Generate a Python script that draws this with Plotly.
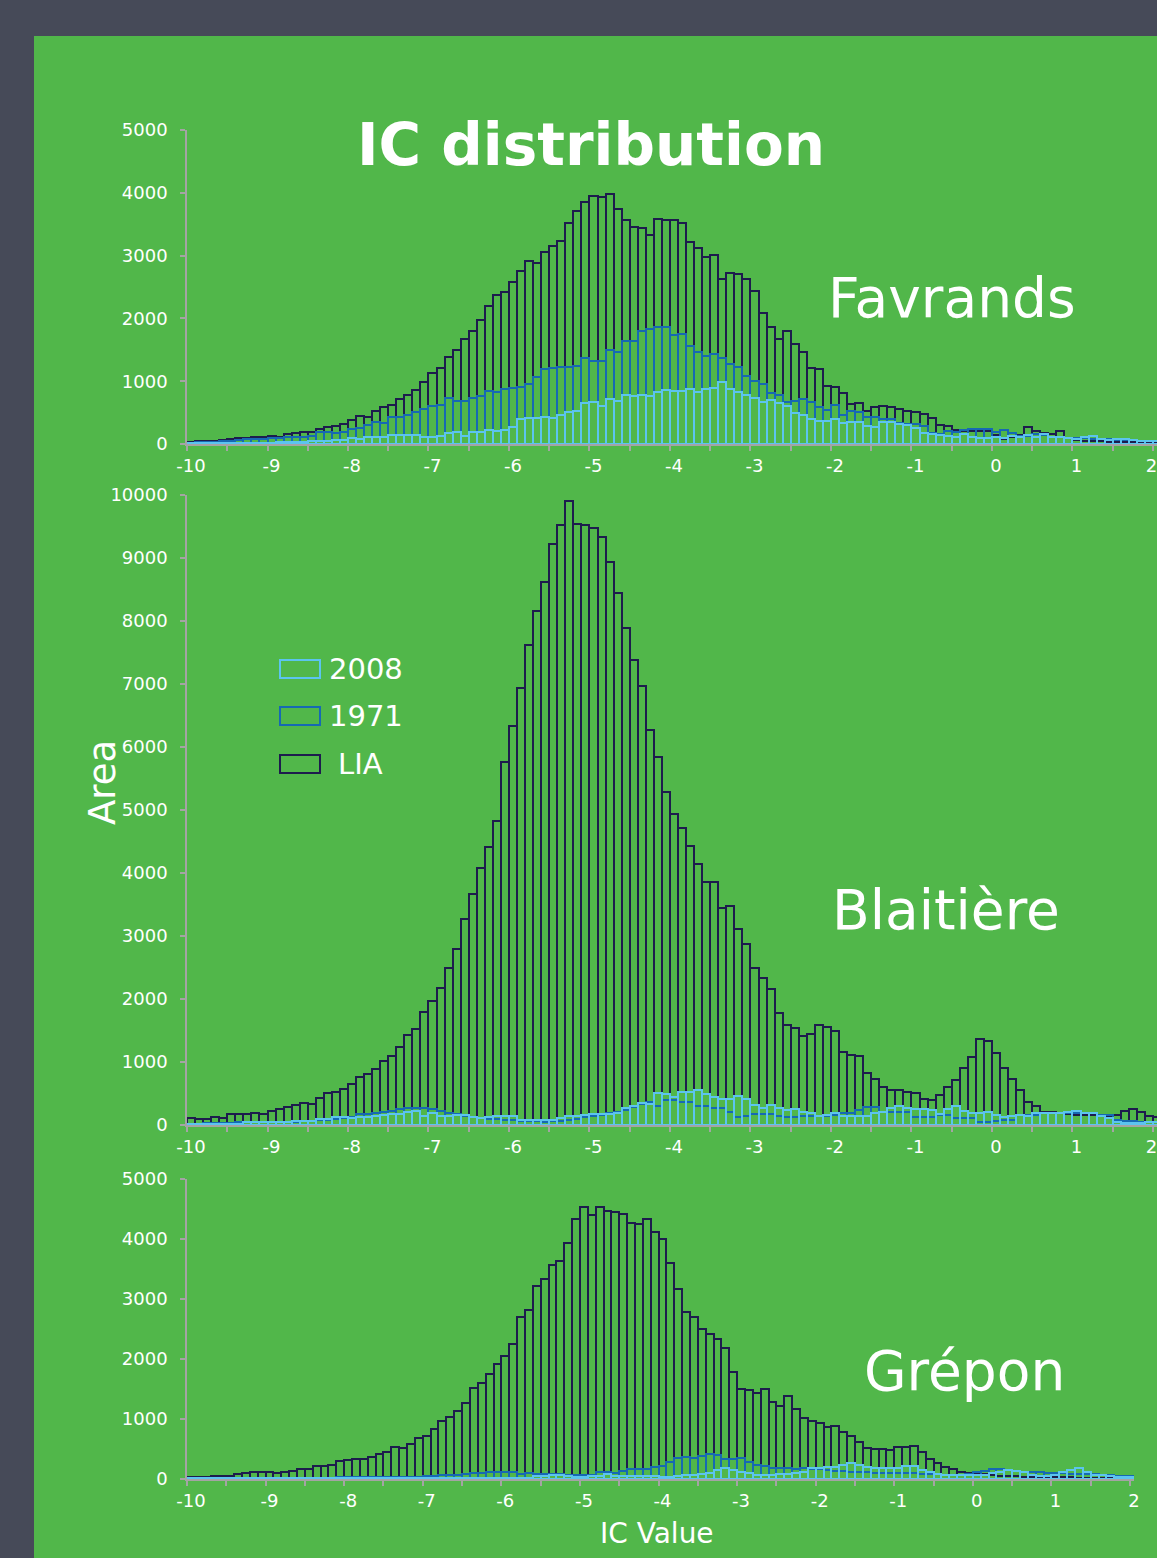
import plotly.graph_objects as go

W, H = 1157, 1558
FONT = "DejaVu Sans"
GREEN = "#51b74a"
DARK = "#464a58"
GRAY = "#a4a4a4"
C_LIA = "#1d1c4d"
C_1971 = "#1669b3"
C_2008 = "#5cc4ef"

# IC value bins (0.1 wide, from -10 to 2)
ic_bins = [round(-10 + 0.1 * i, 1) for i in range(121)]

x_tick_vals = [-10, -9, -8, -7, -6, -5, -4, -3, -2, -1, 0, 1, 2]
x_tick_text = ["-10", "-9", "-8", "-7", "-6", "-5", "-4", "-3", "-2", "-1", "0", "1", "2"]

favrands_lia = [37, 43, 53, 53, 64, 74, 96, 96, 106, 117,
                133, 117, 154, 181, 197, 197, 234, 276, 287, 319,
                383, 447, 436, 532, 585, 627, 723, 782, 861, 989,
                1127, 1207, 1393, 1489, 1675, 1792, 1978, 2190, 2377, 2424,
                2579, 2759, 2908, 2882, 3052, 3158, 3227, 3520, 3706, 3850,
                3956, 3935, 3982, 3743, 3562, 3456, 3440, 3322, 3589, 3573,
                3562, 3520, 3216, 3115, 2977, 3009, 2632, 2722, 2706, 2632,
                2430, 2085, 1871, 1675, 1792, 1595, 1472, 1217, 1196, 925,
                915, 808, 638, 659, 531, 585, 611, 585, 558, 526,
                505, 473, 409, 303, 292, 223, 212, 207, 201, 200,
                144, 80, 117, 144, 276, 207, 170, 160, 212, 101,
                60, 50, 45, 40, 35, 30, 30, 25, 20, 20, 20]
favrands_1971 = [20, 25, 30, 35, 40, 50, 60, 74, 74, 80,
                 90, 95, 106, 110, 117, 120, 186, 186, 170, 197,
                 234, 250, 303, 356, 340, 436, 436, 463, 516, 553,
                 611, 622, 728, 691, 691, 728, 766, 851, 835, 877,
                 888, 904, 957, 1074, 1191, 1207, 1234, 1223, 1250, 1377,
                 1314, 1329, 1489, 1473, 1648, 1648, 1792, 1829, 1871, 1871,
                 1739, 1749, 1563, 1462, 1409, 1436, 1366, 1270, 1234, 1090,
                 1010, 957, 808, 781, 675, 691, 717, 664, 595, 542,
                 622, 463, 531, 505, 436, 430, 399, 393, 340, 319,
                 319, 292, 170, 160, 213, 197, 223, 234, 234, 234,
                 186, 223, 181, 128, 128, 160, 143, 117, 106, 100,
                 96, 90, 85, 80, 75, 70, 65, 60, 50, 45, 40]
favrands_2008 = [10, 10, 12, 12, 15, 15, 18, 18, 20, 20,
                 22, 25, 35, 35, 35, 40, 48, 48, 58, 58,
                 90, 74, 106, 106, 106, 143, 143, 143, 143, 117,
                 106, 127, 170, 186, 133, 197, 197, 223, 213, 223,
                 276, 399, 420, 420, 436, 420, 463, 516, 531, 648,
                 675, 606, 717, 691, 781, 766, 781, 766, 835, 861,
                 845, 851, 877, 835, 877, 888, 994, 872, 835, 781,
                 728, 664, 702, 648, 611, 500, 463, 393, 372, 372,
                 404, 340, 346, 346, 287, 276, 356, 356, 319, 303,
                 250, 170, 154, 143, 128, 106, 160, 117, 90, 90,
                 106, 90, 128, 106, 143, 117, 160, 117, 106, 90,
                 74, 106, 128, 74, 64, 80, 74, 64, 55, 50, 50]

blaitiere_lia = [116, 90, 100, 132, 116, 169, 169, 175, 185, 180,
                 222, 249, 291, 317, 344, 333, 423, 503, 519, 571,
                 646, 762, 804, 884, 1013, 1103, 1235, 1424, 1530, 1800,
                 1968, 2175, 2486, 2797, 3263, 3665, 4079, 4417, 4825, 5759,
                 6335, 6930, 7617, 8155, 8616, 9218, 9522, 9898, 9535, 9522,
                 9480, 9335, 8933, 8446, 7889, 7384, 6963, 6270, 5837, 5280,
                 4941, 4714, 4430, 4138, 3860, 3850, 3451, 3484, 3114, 2875,
                 2498, 2337, 2162, 1778, 1583, 1545, 1418, 1452, 1583, 1561,
                 1497, 1153, 1111, 1095, 831, 730, 598, 556, 556, 524,
                 513, 413, 397, 476, 598, 714, 899, 1074, 1360, 1333,
                 1148, 899, 730, 556, 365, 302, 212, 212, 190, 175,
                 165, 160, 165, 160, 150, 160, 230, 250, 200, 140, 130]
blaitiere_1971 = [20, 20, 25, 25, 30, 30, 40, 40, 45, 45,
                  50, 50, 55, 55, 60, 65, 80, 85, 90, 110,
                  120, 175, 175, 185, 200, 215, 249, 265, 265, 265,
                  249, 222, 196, 175, 150, 130, 110, 100, 90, 80,
                  75, 70, 65, 60, 55, 60, 65, 80, 100, 120,
                  140, 160, 196, 212, 240, 280, 330, 370, 307, 392,
                  392, 370, 370, 307, 307, 265, 265, 200, 135, 150,
                  170, 170, 170, 150, 135, 135, 150, 150, 140, 140,
                  160, 185, 185, 238, 281, 281, 212, 200, 200, 200,
                  122, 122, 122, 159, 159, 106, 106, 106, 42, 42,
                  60, 80, 80, 159, 159, 159, 196, 196, 196, 196,
                  185, 185, 185, 159, 159, 80, 70, 60, 55, 50, 50]
blaitiere_2008 = [10, 10, 12, 12, 15, 15, 20, 42, 42, 42,
                  53, 53, 53, 69, 69, 69, 95, 95, 122, 122,
                  118, 132, 132, 140, 165, 180, 180, 200, 220, 150,
                  190, 150, 150, 155, 160, 130, 110, 130, 140, 140,
                  140, 80, 80, 80, 85, 80, 110, 140, 140, 165,
                  170, 175, 175, 190, 265, 295, 350, 340, 510, 485,
                  445, 520, 520, 555, 500, 440, 410, 410, 455, 405,
                  310, 270, 320, 265, 238, 250, 200, 196, 143, 164,
                  186, 143, 143, 143, 143, 186, 210, 262, 300, 265,
                  249, 249, 240, 175, 249, 302, 222, 185, 185, 212,
                  159, 122, 143, 159, 143, 185, 196, 185, 196, 212,
                  222, 196, 185, 143, 106, 53, 37, 37, 37, 45, 45]

grepon_lia = [39, 39, 39, 50, 56, 50, 83, 100, 111, 117,
              122, 94, 117, 139, 167, 172, 211, 211, 239, 294,
              322, 339, 339, 367, 420, 445, 530, 515, 580, 690,
              722, 839, 972, 1039, 1130, 1272, 1517, 1606, 1750, 1911,
              2056, 2250, 2694, 2822, 3222, 3333, 3567, 3639, 3928, 4328,
              4539, 4400, 4539, 4472, 4456, 4417, 4261, 4244, 4328, 4117,
              4006, 3594, 3172, 2778, 2706, 2500, 2411, 2333, 2189, 1789,
              1505, 1483, 1441, 1505, 1280, 1220, 1386, 1164, 1022, 972,
              928, 872, 878, 789, 717, 622, 511, 500, 494, 483,
              528, 528, 556, 456, 328, 272, 206, 161, 122, 106,
              83, 78, 60, 55, 50, 45, 40, 35, 35, 30,
              30, 30, 30, 25, 25, 25, 20, 20, 20, 20, 20]
grepon_1971 = [15, 15, 15, 15, 15, 15, 18, 18, 20, 20,
               20, 20, 22, 22, 22, 25, 25, 25, 25, 28,
               30, 30, 35, 39, 39, 28, 28, 28, 28, 28,
               50, 50, 67, 67, 67, 83, 100, 100, 110, 122,
               111, 111, 83, 100, 83, 83, 83, 90, 70, 67,
               67, 67, 111, 111, 100, 128, 167, 167, 167, 200,
               217, 283, 344, 372, 356, 389, 411, 400, 340, 330,
               356, 283, 233, 217, 189, 180, 189, 170, 180, 170,
               160, 150, 140, 130, 120, 110, 110, 105, 100, 100,
               100, 100, 100, 90, 80, 80, 75, 70, 75, 90,
               110, 140, 175, 175, 150, 130, 120, 110, 110, 100,
               100, 95, 90, 90, 85, 80, 70, 60, 55, 50, 50]
grepon_2008 = [10, 10, 10, 10, 10, 10, 10, 10, 10, 10,
               10, 10, 12, 12, 12, 12, 15, 15, 15, 15,
               15, 20, 20, 20, 22, 22, 22, 22, 22, 22,
               25, 25, 25, 25, 25, 25, 25, 25, 25, 25,
               25, 25, 25, 25, 45, 45, 67, 67, 45, 35,
               35, 45, 45, 83, 55, 45, 45, 55, 55, 45,
               35, 30, 45, 67, 67, 78, 100, 150, 178, 150,
               122, 94, 67, 67, 67, 83, 83, 94, 122, 178,
               178, 194, 194, 233, 261, 233, 194, 178, 178, 178,
               178, 211, 211, 150, 117, 80, 67, 67, 67, 67,
               67, 67, 100, 122, 150, 139, 122, 67, 50, 50,
               67, 120, 150, 178, 122, 67, 67, 45, 39, 39, 39]

series_names = ["LIA", "1971", "2008"]
series_colors = [C_LIA, C_1971, C_2008]
panels = [
    ("x", "y", [favrands_lia, favrands_1971, favrands_2008]),
    ("x2", "y2", [blaitiere_lia, blaitiere_1971, blaitiere_2008]),
    ("x3", "y3", [grepon_lia, grepon_1971, grepon_2008]),
]


def pxx(p):
    return p / W


def pxy(p):
    return 1 - p / H


fig = go.Figure()
for xa, ya, series in panels:
    for name, vals, col in zip(series_names, series, series_colors):
        fig.add_trace(go.Bar(
            x=ic_bins, y=vals, width=0.1, name=name,
            marker=dict(color="rgba(0,0,0,0)", line=dict(color=col, width=2)),
            xaxis=xa, yaxis=ya, showlegend=False, hoverinfo="skip"))


def xaxis_cfg(domain, anchor, edge_label_shift):
    # the last label ("2") sits at the clipped right edge; pull it in like the original does
    tv = list(x_tick_vals)
    tv[-1] = tv[-1] - edge_label_shift
    return dict(
        domain=domain, anchor=anchor, range=[-10.05, 2.0],
        showline=True, linecolor=GRAY, linewidth=1.5,
        showgrid=False, zeroline=False, automargin=False,
        tickmode="array", tickvals=tv, ticktext=x_tick_text,
        ticks="", ticklabelstandoff=5, ticklabeloverflow="allow",
        tickfont=dict(family=FONT, size=18, color="white"),
        minor=dict(ticks="outside", tick0=-10.05, dtick=0.5, ticklen=5,
                   tickcolor=GRAY, tickwidth=1.5, showgrid=False),
        layer="below traces", fixedrange=True)


def yaxis_cfg(domain, anchor, top):
    return dict(
        domain=domain, anchor=anchor, range=[0, top],
        tickmode="linear", tick0=0, dtick=1000, tickformat="d",
        showline=True, linecolor=GRAY, linewidth=1.5,
        ticks="outside", ticklen=5, tickcolor=GRAY, tickwidth=1.5,
        ticklabelstandoff=9, automargin=False,
        showgrid=False, zeroline=False,
        tickfont=dict(family=FONT, size=18, color="white"),
        layer="below traces", fixedrange=True)


x_left = pxx(187)
fig.update_layout(
    width=W, height=H,
    margin=dict(l=0, r=0, t=0, b=0, pad=0, autoexpand=False),
    paper_bgcolor=GREEN, plot_bgcolor="rgba(0,0,0,0)",
    barmode="overlay", bargap=0,
    font=dict(family=FONT, color="white"),
    xaxis=xaxis_cfg([x_left, 1.0], "y", 0.07),
    yaxis=yaxis_cfg([pxy(444), pxy(130)], "x", 5000),
    xaxis2=xaxis_cfg([x_left, 1.0], "y2", 0.07),
    yaxis2=yaxis_cfg([pxy(1125), pxy(495)], "x2", 10000),
    xaxis3=xaxis_cfg([x_left, pxx(1134)], "y3", 0.0),
    yaxis3=yaxis_cfg([pxy(1479), pxy(1179)], "x3", 5000),
    showlegend=False,
)

shapes = [
    dict(type="rect", xref="paper", yref="paper", x0=0, x1=1, y0=pxy(36), y1=1,
         fillcolor=DARK, line=dict(width=0), layer="below"),
    dict(type="rect", xref="paper", yref="paper", x0=0, x1=pxx(34), y0=0, y1=1,
         fillcolor=DARK, line=dict(width=0), layer="below"),
]
legend_items = [("2008", C_2008, 660, 327), ("1971", C_1971, 707, 327), ("LIA", C_LIA, 755, 336)]
annotations = []
for label, col, ytop, xtext in legend_items:
    shapes.append(dict(type="rect", xref="paper", yref="paper",
                       x0=pxx(280), x1=pxx(320), y0=pxy(ytop + 18), y1=pxy(ytop),
                       line=dict(color=col, width=2), fillcolor="rgba(0,0,0,0)"))
    annotations.append(dict(text=label, xref="paper", yref="paper", x=pxx(xtext), y=pxy(ytop + 9),
                            xanchor="left", yanchor="middle", showarrow=False,
                            font=dict(family=FONT, size=29, color="white")))

annotations += [
    dict(text="<b>IC distribution</b>", xref="paper", yref="paper", x=pxx(591), y=pxy(145),
         xanchor="center", yanchor="middle", showarrow=False,
         font=dict(family=FONT, size=58, color="white")),
    dict(text="Favrands", xref="paper", yref="paper", x=pxx(826), y=pxy(298),
         xanchor="left", yanchor="middle", showarrow=False,
         font=dict(family=FONT, size=55, color="white")),
    dict(text="Blaitière", xref="paper", yref="paper", x=pxx(830), y=pxy(910),
         xanchor="left", yanchor="middle", showarrow=False,
         font=dict(family=FONT, size=55, color="white")),
    dict(text="Grépon", xref="paper", yref="paper", x=pxx(862), y=pxy(1371),
         xanchor="left", yanchor="middle", showarrow=False,
         font=dict(family=FONT, size=55, color="white")),
    dict(text="IC Value", xref="paper", yref="paper", x=pxx(657), y=pxy(1533),
         xanchor="center", yanchor="middle", showarrow=False,
         font=dict(family=FONT, size=28, color="white")),
    dict(text="Area", xref="paper", yref="paper", x=pxx(102), y=pxy(783),
         xanchor="center", yanchor="middle", showarrow=False, textangle=-90,
         font=dict(family=FONT, size=37, color="white")),
]
fig.update_layout(shapes=shapes, annotations=annotations)

# remove the browser's default page margin so the figure sits at the window's top-left corner
fig.write_html("out.html", config={"displayModeBar": False},
               post_script="document.body.style.margin='0';")
